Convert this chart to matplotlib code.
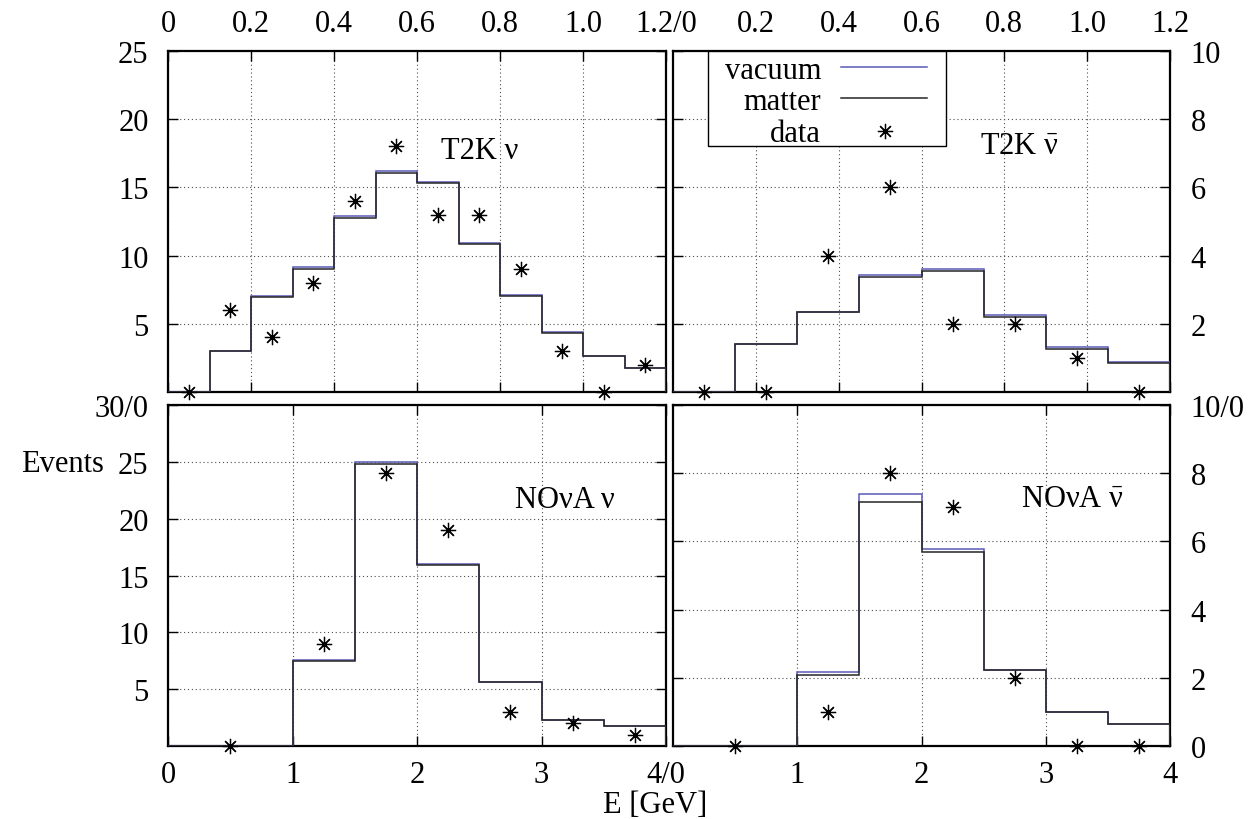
import matplotlib
matplotlib.use("Agg")
import matplotlib.pyplot as plt
from matplotlib.patches import Rectangle

plt.rcParams['font.family'] = ['Liberation Serif', 'DejaVu Serif']
plt.rcParams['font.size'] = 22
plt.rcParams['mathtext.fontset'] = 'custom'
plt.rcParams['mathtext.rm'] = 'Liberation Serif'
plt.rcParams['mathtext.it'] = 'Liberation Serif:italic'

# T2K neutrino mode
t2k_nu_edges = [0, 0.1, 0.2, 0.3, 0.4, 0.5, 0.6, 0.7, 0.8, 0.9, 1.0, 1.1, 1.2]
t2k_nu_vac = [0, 3.0, 7.05, 9.2, 12.9, 16.2, 15.4, 10.9, 7.1, 4.4, 2.65, 1.78]
t2k_nu_mat = [0, 3.0, 7.0, 9.0, 12.75, 16.05, 15.3, 10.85, 7.05, 4.35, 2.62, 1.75]
t2k_nu_x = [0.05, 0.15, 0.25, 0.35, 0.45, 0.55, 0.65, 0.75, 0.85, 0.95, 1.05, 1.15]
t2k_nu_data = [0, 6, 4, 8, 14, 18, 13, 13, 9, 3, 0, 2]

# T2K antineutrino mode
t2k_nubar_edges = [0, 0.15, 0.3, 0.45, 0.6, 0.75, 0.9, 1.05, 1.2]
t2k_nubar_vac = [0, 1.42, 2.36, 3.44, 3.6, 2.26, 1.31, 0.87]
t2k_nubar_mat = [0, 1.40, 2.34, 3.38, 3.55, 2.20, 1.25, 0.85]
t2k_nubar_x = [0.075, 0.225, 0.375, 0.525, 0.675, 0.825, 0.975, 1.125]
t2k_nubar_data = [0, 0, 4, 6, 2, 2, 1, 0]

# NOvA neutrino mode
nova_edges = [0, 1, 1.5, 2, 2.5, 3, 3.5, 4]
nova_x = [0.5, 1.25, 1.75, 2.25, 2.75, 3.25, 3.75]
nova_nu_vac = [0, 7.55, 24.95, 16.0, 5.65, 2.27, 1.77]
nova_nu_mat = [0, 7.5, 24.8, 15.95, 5.6, 2.25, 1.75]
nova_nu_data = [0, 9, 24, 19, 3, 2, 1]

# NOvA antineutrino mode
nova_nubar_vac = [0, 2.17, 7.39, 5.77, 2.23, 1.0, 0.64]
nova_nubar_mat = [0, 2.09, 7.15, 5.69, 2.23, 1.0, 0.64]
nova_nubar_data = [0, 1, 8, 7, 2, 0, 0]

vac_color = '#5a5ab8'
mat_color = '#262626'
star = (8, 2, 0)

fig = plt.figure(figsize=(12.54, 8.2), dpi=100)
W, H = 1254, 820


def make_ax(x0, x1, y0, y1):
    return fig.add_axes([x0 / W, 1 - y1 / H, (x1 - x0) / W, (y1 - y0) / H])


ax_tl = make_ax(168, 666, 52, 393)
ax_tr = make_ax(673, 1170, 52, 393)
ax_bl = make_ax(168, 666, 406, 747)
ax_br = make_ax(673, 1170, 406, 747)

panels = [
    (ax_tl, t2k_nu_edges, t2k_nu_vac, t2k_nu_mat, t2k_nu_x, t2k_nu_data),
    (ax_tr, t2k_nubar_edges, t2k_nubar_vac, t2k_nubar_mat, t2k_nubar_x, t2k_nubar_data),
    (ax_bl, nova_edges, nova_nu_vac, nova_nu_mat, nova_x, nova_nu_data),
    (ax_br, nova_edges, nova_nubar_vac, nova_nubar_mat, nova_x, nova_nubar_data),
]

for ax, edges, vac, mat, xs, ys in panels:
    ax.stairs(vac, edges, color=vac_color, lw=1.1, zorder=3)
    ax.stairs(mat, edges, color=mat_color, lw=1.1, zorder=3.5)
    ax.plot(xs, ys, ls='none', marker=star, ms=11, mew=0.9, color='black',
            clip_on=False, zorder=4)
    ax.set_xlim(edges[0], edges[-1])
    ax.grid(True, color='0.3', ls=(0, (1, 2.5)), lw=0.8)
    for s in ax.spines.values():
        s.set_linewidth(1.6)
    ax.tick_params(direction='in', length=7, width=1, top=True, bottom=True,
                   left=True, right=True)

# top panels: energy axis on top
ax_tl.set_ylim(0, 25)
ax_tl.set_xticks([0, 0.2, 0.4, 0.6, 0.8, 1.0, 1.2],
                 ['0', '0.2', '0.4', '0.6', '0.8', '1.0', '1.2/0'])
ax_tl.set_yticks([5, 10, 15, 20, 25])
ax_tr.set_ylim(0, 10)
ax_tr.set_xticks([0.2, 0.4, 0.6, 0.8, 1.0, 1.2],
                 ['0.2', '0.4', '0.6', '0.8', '1.0', '1.2'])
ax_tr.set_yticks([2, 4, 6, 8, 10])
for ax in (ax_tl, ax_tr):
    ax.tick_params(axis='x', labeltop=True, labelbottom=False, pad=9)

# bottom panels
ax_bl.set_ylim(0, 30)
ax_bl.set_xticks([0, 1, 2, 3, 4], ['0', '1', '2', '3', '4/0'])
ax_bl.set_yticks([5, 10, 15, 20, 25, 30], ['5', '10', '15', '20', '25', '30/0'])
ax_br.set_ylim(0, 10)
ax_br.set_xticks([1, 2, 3, 4], ['1', '2', '3', '4'])
ax_br.set_yticks([0, 2, 4, 6, 8, 10], ['0', '2', '4', '6', '8', '10/0'])
for ax in (ax_bl, ax_br):
    ax.tick_params(axis='x', pad=10)

for ax in (ax_tl, ax_bl):
    ax.tick_params(axis='y', labelleft=True, labelright=False, pad=14)
for ax in (ax_tr, ax_br):
    ax.tick_params(axis='y', labelleft=False, labelright=True, pad=15)

# panel titles
ax_tl.text(0.657, 17.13, 'T2K ν', ha='left', va='baseline')
ax_tr.text(0.741, 7.01, r'T2K $\bar{\mathrm{\nu}}$', ha='left', va='baseline')
ax_bl.text(2.79, 21.05, 'NOνA ν', ha='left', va='baseline')
ax_br.text(2.797, 7.04, r'NOνA $\bar{\mathrm{\nu}}$', ha='left', va='baseline')

# key box in the T2K antineutrino panel
tr = ax_tr.transAxes
ax_tr.add_patch(Rectangle((0.0704, 0.7214), 0.4786, 0.2786, transform=tr,
                          facecolor='white', edgecolor='black', lw=1, zorder=5))
ax_tr.text(0.2978, 0.920, 'vacuum', ha='right', va='baseline', transform=tr, zorder=6)
ax_tr.text(0.2978, 0.830, 'matter', ha='right', va='baseline', transform=tr, zorder=6)
ax_tr.text(0.2978, 0.737, 'data', ha='right', va='baseline', transform=tr, zorder=6)
ax_tr.plot([0.338, 0.511], [0.952, 0.952], color=vac_color, lw=1.1, transform=tr, zorder=6)
ax_tr.plot([0.338, 0.511], [0.861, 0.861], color=mat_color, lw=1.1, transform=tr, zorder=6)
ax_tr.plot([0.4266], [0.766], ls='none', marker=star, ms=11, mew=0.9, color='black',
           transform=tr, zorder=6)

fig.text(104 / W, 1 - 471.7 / H, 'Events', ha='right', va='baseline')
fig.text(655 / W, 1 - 813 / H, 'E [GeV]', ha='center', va='baseline')

fig.savefig('out.png', dpi=100)
